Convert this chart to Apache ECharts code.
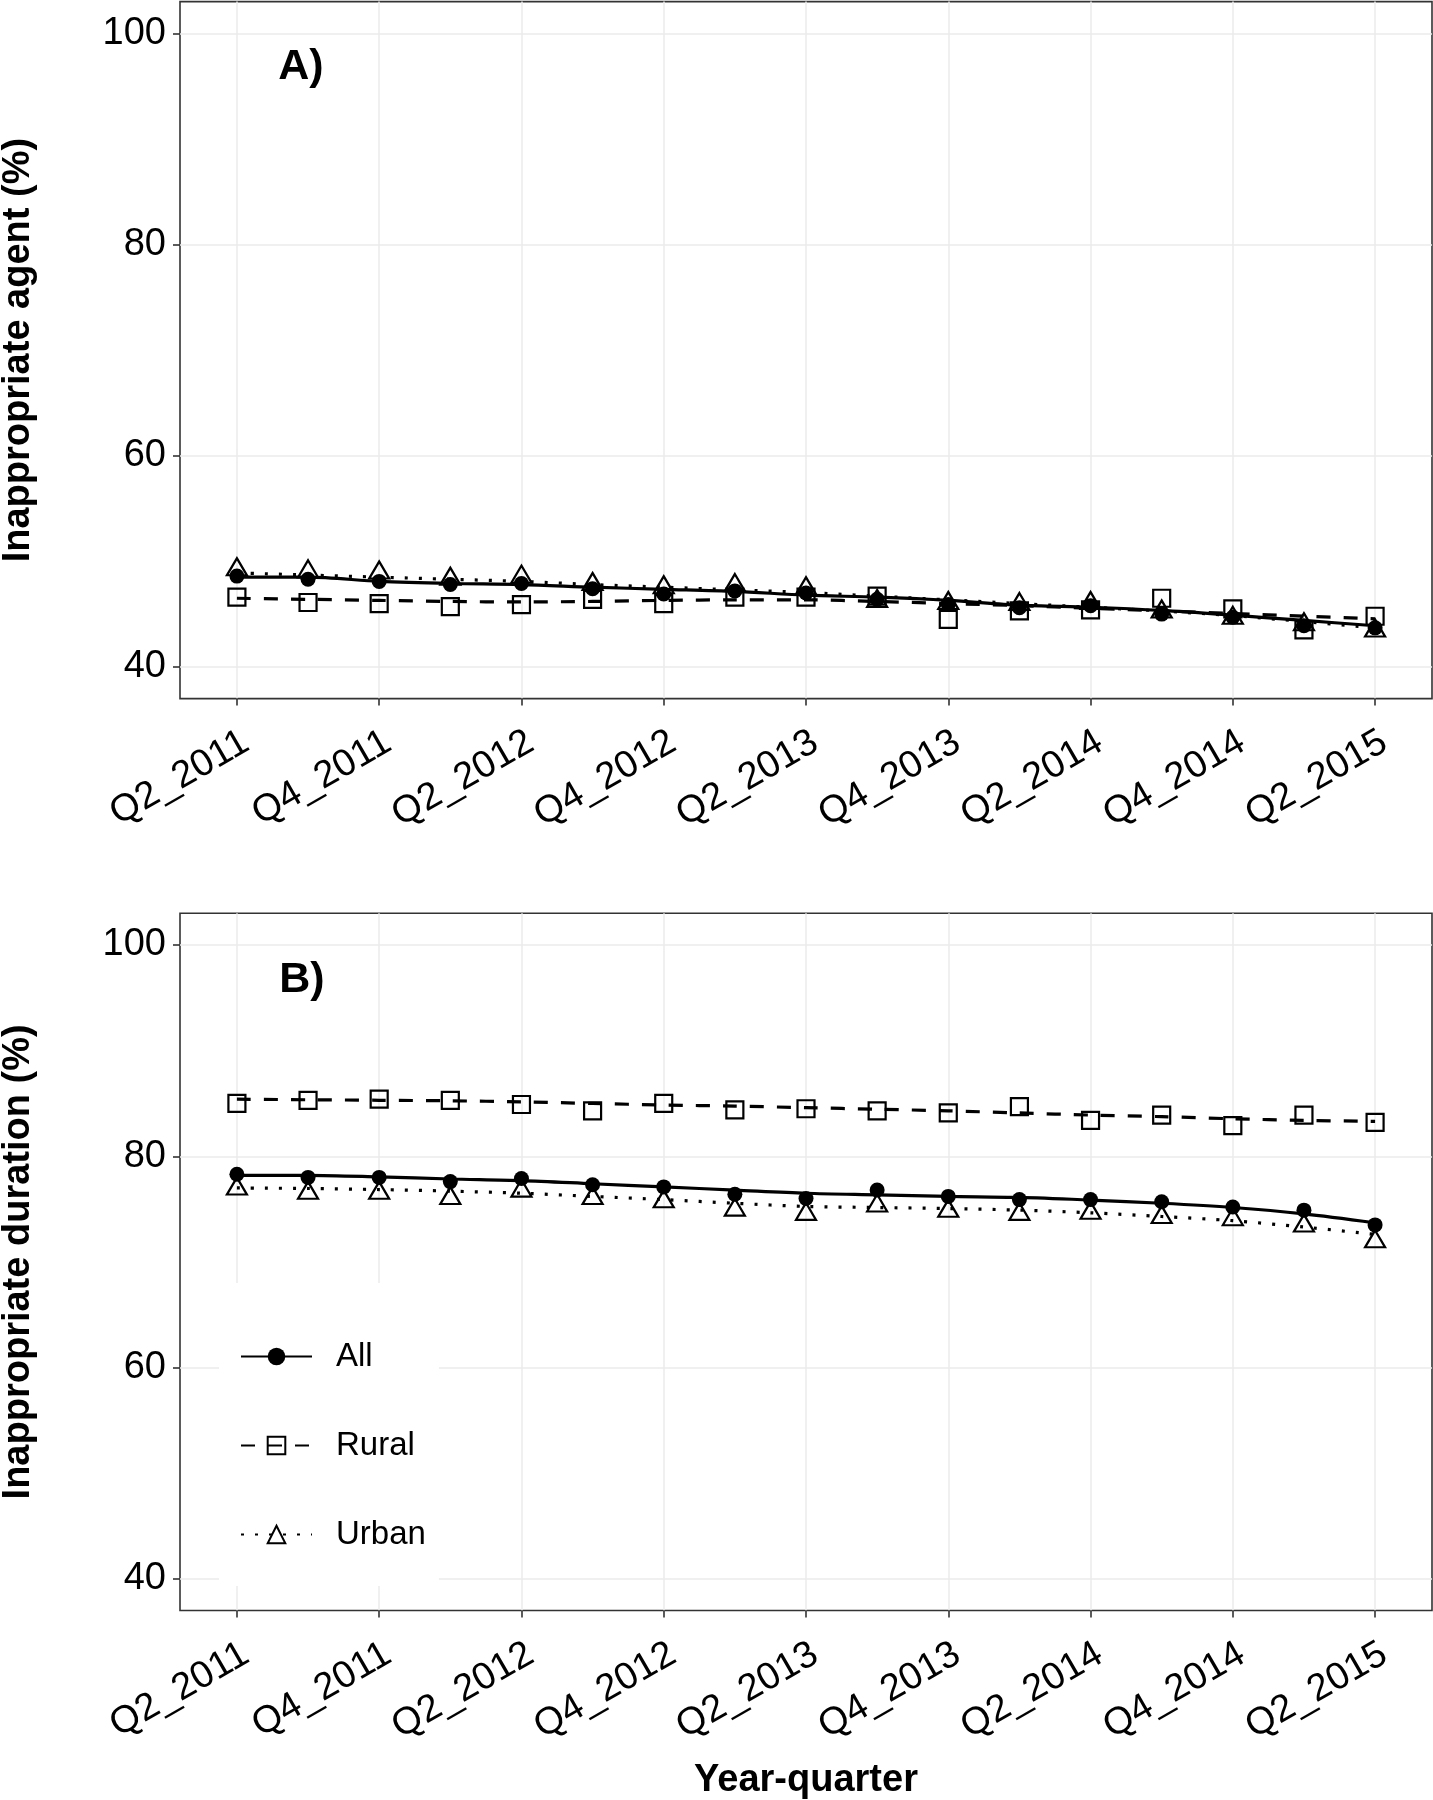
<!DOCTYPE html>
<html>
<head>
<meta charset="utf-8">
<script src="https://cdn.jsdelivr.net/npm/echarts@6/dist/echarts.min.js"></script>
<style>
html,body{margin:0;padding:0;background:#ffffff;}
#chart{width:1433px;height:1800px;}
</style>
</head>
<body>
<div id="chart"></div>
<script>
// ---------------- data ----------------
const quarters = ['Q2_2011','Q3_2011','Q4_2011','Q1_2012','Q2_2012','Q3_2012','Q4_2012','Q1_2013',
  'Q2_2013','Q3_2013','Q4_2013','Q1_2014','Q2_2014','Q3_2014','Q4_2014','Q1_2015','Q2_2015'];
const tickIndex = [0, 2, 4, 6, 8, 10, 12, 14, 16];
const tickLabels = ['Q2_2011','Q4_2011','Q2_2012','Q4_2012','Q2_2013','Q4_2013','Q2_2014','Q4_2014','Q2_2015'];
const yTicks = [40, 60, 80, 100];
const groups = ['All', 'Rural', 'Urban'];

// Panel A: inappropriate agent (%) - observed points
const agentAll   = [48.6, 48.3, 48.1, 47.8, 47.9, 47.4, 46.9, 47.2, 47.0, 46.4, 45.9, 45.6, 45.8, 45.0, 44.7, 43.9, 43.7];
const agentRural = [46.6, 46.1, 46.0, 45.7, 45.9, 46.4, 46.0, 46.6, 46.6, 46.7, 44.5, 45.3, 45.4, 46.5, 45.5, 43.5, 44.8];
const agentUrban = [49.2, 49.0, 48.9, 48.3, 48.5, 47.8, 47.5, 47.7, 47.4, 46.2, 46.0, 45.9, 46.0, 45.2, 44.6, 44.0, 43.4];
// Panel A: fitted trend lines
const agentAllFit   = [48.5, 48.5, 48.1, 47.9, 47.8, 47.55, 47.35, 47.15, 46.8, 46.6, 46.3, 45.85, 45.65, 45.35, 44.9, 44.4, 43.9];
const agentRuralFit = [46.5, 46.4, 46.3, 46.2, 46.15, 46.2, 46.3, 46.35, 46.35, 46.2, 46.0, 45.8, 45.55, 45.3, 45.05, 44.8, 44.55];
const agentUrbanFit = [48.9, 48.7, 48.5, 48.3, 48.1, 47.8, 47.55, 47.3, 47.05, 46.7, 46.35, 46.0, 45.65, 45.3, 44.85, 44.3, 43.7];

// Panel B: inappropriate duration (%) - observed points
const durAll   = [78.3, 78.0, 78.0, 77.6, 77.9, 77.3, 77.1, 76.4, 76.0, 76.8, 76.2, 75.9, 75.9, 75.7, 75.2, 74.9, 73.5];
const durRural = [85.0, 85.3, 85.4, 85.3, 84.9, 84.3, 85.0, 84.4, 84.5, 84.3, 84.1, 84.7, 83.4, 83.9, 82.9, 83.9, 83.2];
const durUrban = [76.9, 76.5, 76.5, 76.0, 76.7, 76.0, 75.7, 74.9, 74.5, 75.3, 74.8, 74.5, 74.6, 74.2, 74.0, 73.4, 71.9];
// Panel B: fitted trend lines
const durAllFit   = [78.2, 78.2, 78.05, 77.85, 77.7, 77.4, 77.1, 76.8, 76.5, 76.35, 76.2, 76.1, 75.85, 75.55, 75.15, 74.55, 73.7];
const durRuralFit = [85.4, 85.35, 85.3, 85.25, 85.15, 85.0, 84.85, 84.75, 84.6, 84.45, 84.3, 84.1, 83.9, 83.75, 83.55, 83.4, 83.3];
const durUrbanFit = [77.0, 76.95, 76.85, 76.7, 76.5, 76.2, 75.9, 75.55, 75.25, 75.15, 75.05, 74.9, 74.65, 74.3, 73.9, 73.3, 72.6];

const panelTitles = ['Inappropriate agent (%)', 'Inappropriate duration (%)'];
const panelTags = ['A)', 'B)'];
const xTitle = 'Year-quarter';

// ---------------- chart ----------------
const FONT = '"Liberation Sans", Arial, Helvetica, sans-serif';
const pts = arr => arr.map((v, i) => [i, v]);
const LABEL_SHIFT = 0.13; // nudges rotated tick labels (ggplot hjust/vjust = 1 look)

const styles = {
  All:   { symbol: 'circle',   size: 15,       offset: [0, 0],  dash: 'solid',  fill: '#000000', bw: 0 },
  Rural: { symbol: 'rect',     size: 17,       offset: [0, 0],  dash: [14, 13], fill: 'rgba(0,0,0,0)', bw: 2.2 },
  Urban: { symbol: 'triangle', size: [20, 17], offset: [0, -3], dash: [3, 11],  fill: 'rgba(0,0,0,0)', bw: 2.2 }
};

const obs = [[agentAll, agentRural, agentUrban], [durAll, durRural, durUrban]];
const fits = [[agentAllFit, agentRuralFit, agentUrbanFit], [durAllFit, durRuralFit, durUrbanFit]];

const grids = [
  { left: 180, top: 1.6, width: 1252, height: 697 },
  { left: 180, top: 913.3, width: 1252, height: 697.2 }
].map(g => Object.assign(g, {
  show: true, borderColor: '#333333', borderWidth: 1.6, backgroundColor: 'transparent',
  containLabel: false, outerBoundsMode: 'none'
}));

const xAxes = [0, 1].map(p => ({
  type: 'value', gridIndex: p, min: -0.8, max: 16.8,
  axisLine: { show: false, onZero: false },
  axisTick: { show: true, customValues: tickIndex, length: 7, lineStyle: { color: '#333333', width: 1.6 } },
  axisLabel: {
    customValues: tickIndex.map(v => v + LABEL_SHIFT),
    formatter: v => tickLabels[tickIndex.indexOf(Math.round(v))],
    rotate: 30, fontSize: 38, fontFamily: FONT, color: '#000000', margin: 41,
    hideOverlap: false
  },
  splitLine: { show: true, lineStyle: { color: '#EBEBEB', width: 1.5 } },
  name: p === 1 ? xTitle : '',
  nameLocation: 'middle', nameGap: 151,
  nameTextStyle: { fontSize: 38, fontWeight: 'bold', fontFamily: FONT, color: '#000000' }
}));

const yAxes = [0, 1].map(p => ({
  type: 'value', gridIndex: p, min: 37, max: 103,
  axisLine: { show: false, onZero: false },
  axisTick: { show: true, customValues: yTicks, length: 7, lineStyle: { color: '#333333', width: 1.6 } },
  axisLabel: { customValues: yTicks, fontSize: 38, fontFamily: FONT, color: '#000000', margin: 14 },
  splitLine: { show: true, lineStyle: { color: '#EBEBEB', width: 1.5 } },
  name: panelTitles[p], nameLocation: 'middle', nameGap: 142,
  nameTextStyle: { fontSize: 38, fontWeight: 'bold', fontFamily: FONT, color: '#000000' }
}));

const series = [];
[0, 1].forEach(p => {
  groups.forEach((g, k) => {
    const s = styles[g];
    series.push({
      type: 'line', name: g, xAxisIndex: p, yAxisIndex: p,
      data: pts(fits[p][k]), smooth: 0.3, showSymbol: false,
      symbol: s.symbol, symbolSize: s.size, symbolOffset: s.offset,
      lineStyle: { color: '#000000', width: 3.2, type: s.dash, cap: 'butt' },
      itemStyle: { color: s.fill, borderColor: '#000000', borderWidth: s.bw },
      z: 2, silent: true, animation: false
    });
  });
  groups.forEach((g, k) => {
    const s = styles[g];
    series.push({
      type: 'scatter', name: g + ' observed', xAxisIndex: p, yAxisIndex: p,
      data: pts(obs[p][k]), symbol: s.symbol, symbolSize: s.size, symbolOffset: s.offset,
      itemStyle: { color: s.fill, borderColor: '#000000', borderWidth: s.bw, opacity: 1 },
      z: 3 + k, silent: true, animation: false
    });
  });
});

const option = {
  backgroundColor: '#ffffff',
  animation: false,
  grid: grids,
  xAxis: xAxes,
  yAxis: yAxes,
  legend: {
    data: groups, orient: 'vertical', left: 219, top: 1283,
    backgroundColor: '#ffffff', padding: [57, 13, 35, 21],
    itemGap: 56, itemWidth: 71, itemHeight: 22, selectedMode: false,
    textStyle: { fontSize: 33, fontFamily: FONT, color: '#000000', padding: [0, 0, 0, 19] }
  },
  graphic: [
    { type: 'text', x: 301, y: 67, style: { text: panelTags[0], font: 'bold 43px ' + FONT, fill: '#000000', align: 'center', verticalAlign: 'middle' } },
    { type: 'text', x: 302, y: 980, style: { text: panelTags[1], font: 'bold 43px ' + FONT, fill: '#000000', align: 'center', verticalAlign: 'middle' } }
  ],
  series: series
};

const chart = echarts.init(document.getElementById('chart'), null, { renderer: 'canvas' });
chart.setOption(option);
</script>
</body>
</html>
